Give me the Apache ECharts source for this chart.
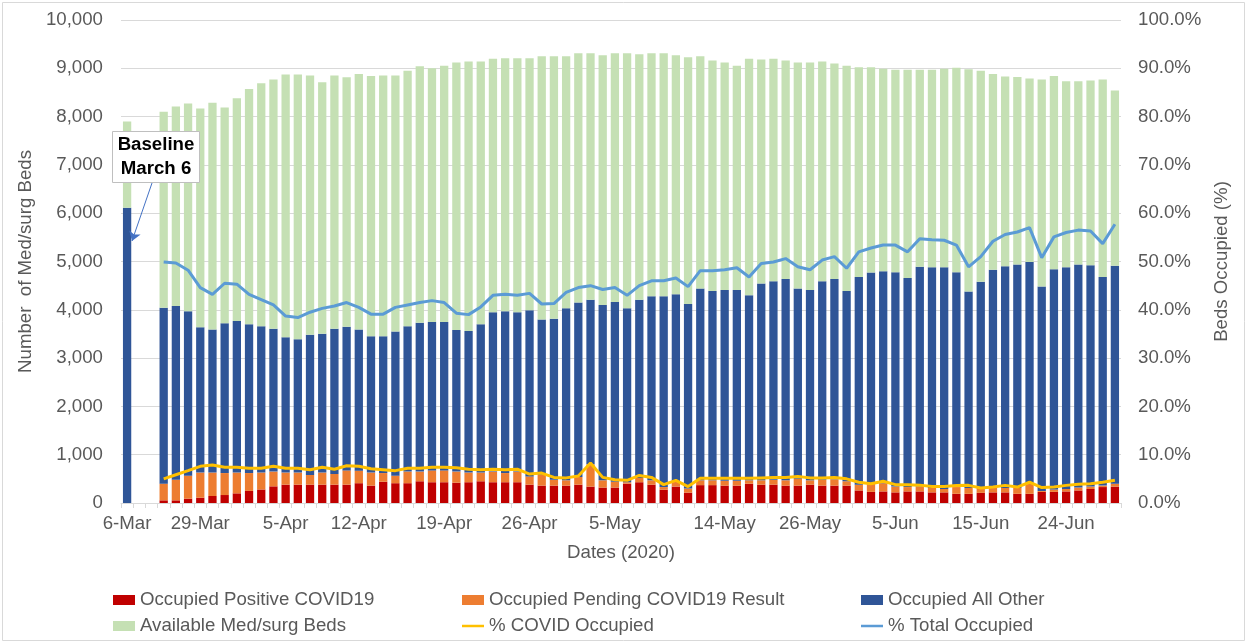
<!DOCTYPE html>
<html>
<head>
<meta charset="utf-8">
<script src="https://cdn.jsdelivr.net/npm/echarts@6/dist/echarts.min.js"></script>
<style>
html,body{margin:0;padding:0;background:#fff;}
#chart{width:1247px;height:643px;}
</style>
</head>
<body>
<div id="chart"></div>
<script>
const dates = ['6-Mar',' ','  ',
 '26-Mar','27-Mar','28-Mar','29-Mar','30-Mar','31-Mar','1-Apr','2-Apr','3-Apr','4-Apr','5-Apr',
 '7-Apr','8-Apr','9-Apr','10-Apr','11-Apr','12-Apr',
 '13-Apr','14-Apr','15-Apr','16-Apr','17-Apr','18-Apr','19-Apr',
 '20-Apr','21-Apr','22-Apr','23-Apr','24-Apr','25-Apr','26-Apr',
 '27-Apr','28-Apr','29-Apr','30-Apr','1-May','4-May','5-May',
 '6-May','7-May','8-May','9-May','10-May','11-May','12-May','13-May','14-May',
 '15-May','18-May','19-May','20-May','21-May','22-May','26-May',
 '28-May','29-May','1-Jun','2-Jun','3-Jun','4-Jun','5-Jun',
 '8-Jun','9-Jun','10-Jun','11-Jun','12-Jun','13-Jun','15-Jun',
 '16-Jun','17-Jun','18-Jun','19-Jun','22-Jun','23-Jun','24-Jun',
 '25-Jun','26-Jun','29-Jun','30-Jun'];

const tickLabels = ['6-Mar','29-Mar','5-Apr','12-Apr','19-Apr','26-Apr','5-May','14-May','26-May','5-Jun','15-Jun','24-Jun'];

const occupiedPositive = [0,null,null,
 55,55,90,110,145,165,200,250,280,345,380,380,380,380,380,380,410,360,440,410,
 410,450,430,430,420,430,450,430,430,430,380,360,360,360,380,340,320,320,400,430,380,275,340,215,
 370,370,360,360,400,380,380,360,360,380,360,360,360,260,230,240,220,240,240,220,220,190,190,
 210,220,220,190,190,230,230,240,260,290,330,340];

const occupiedPending = [0,null,null,
 345,425,475,520,485,455,430,370,350,305,250,250,200,250,220,295,260,270,180,155,
 240,200,245,245,230,200,180,220,190,220,170,225,120,110,160,460,150,120,30,90,90,55,100,85,
 100,100,100,100,70,90,100,110,140,90,120,130,90,120,180,170,120,90,100,90,70,140,120,
 100,90,90,120,210,20,50,50,60,50,30,60];

const occupiedOther = [6115,null,null,
 3640,3600,3405,3010,2960,3100,3140,3080,3030,2960,2800,2760,2905,2875,3010,2975,2920,2820,2830,2985,
 3010,3080,3075,3075,2930,2930,3070,3300,3350,3300,3440,3215,3335,3560,3610,3410,3630,3720,3600,3690,3810,3950,3880,3820,
 3970,3920,3950,3950,3830,4075,4110,4170,3940,3940,4110,4150,3940,4300,4360,4390,4440,4330,4550,4570,4590,4450,4070,
 4270,4520,4590,4630,4590,4230,4560,4590,4620,4580,4320,4510];

const availableBeds = [1785,null,null,
 4060,4130,4300,4530,4695,4470,4610,4870,5030,5160,5440,5480,5365,5205,5240,5165,5290,5390,5400,5300,
 5290,5310,5250,5305,5540,5580,5440,5250,5240,5260,5220,5450,5435,5220,5160,5100,5170,5150,5280,5080,5030,5030,4950,5110,
 4810,4770,4710,4645,4900,4635,4610,4520,4680,4710,4550,4460,4665,4340,4250,4190,4190,4310,4080,4090,4110,4230,4600,
 4370,4050,3930,3880,3800,4290,4000,3850,3790,3830,4090,3630];

const pctCovid = [null,null,null,
 5.0,5.85,6.7,7.6,7.85,7.4,7.4,7.2,7.2,7.6,7.2,7.2,6.9,7.4,7.0,7.7,7.6,7.1,6.9,6.7,
 7.2,7.2,7.4,7.4,7.3,7.0,6.9,7.0,6.9,7.0,6.0,6.2,5.3,5.2,5.6,8.3,5.3,4.8,4.7,5.7,5.3,3.8,4.7,3.4,
 5.1,5.1,5.1,5.1,5.1,5.2,5.3,5.3,5.5,5.2,5.2,5.3,5.0,4.3,4.0,4.5,3.8,3.8,3.7,3.4,3.4,3.6,3.65,
 3.1,3.3,3.65,3.3,4.3,3.2,3.3,3.65,3.9,4.0,4.3,4.7];

const pctTotal = [null,null,null,
 49.9,49.7,48.2,44.6,43.2,45.5,45.3,43.2,42.1,41.0,38.7,38.4,39.5,40.3,40.8,41.5,40.5,39.1,39.1,40.5,
 41.0,41.5,41.9,41.5,39.3,39.0,40.6,43.0,43.2,43.0,43.4,41.2,41.3,43.6,44.6,45.0,44.2,44.6,43.0,45.0,46.0,46.0,46.6,44.8,
 48.1,48.1,48.3,48.7,46.8,49.6,49.9,50.6,48.9,48.3,50.3,51.0,48.6,52.0,52.8,53.4,53.4,52.0,54.7,54.5,54.4,53.4,48.9,
 51.0,54.2,55.6,56.1,57.0,50.8,55.1,56.0,56.5,56.3,53.7,57.7];

const FONT = 'Liberation Sans, Arial, sans-serif';
const FS = 18.67;
const GREY = '#595959';
const LINE_ICON = 'path://M0,0 L22,0 L22,2.5 L0,2.5 Z';

const chart = echarts.init(document.getElementById('chart'), null, {renderer: 'canvas'});

const barCommon = {type: 'bar', stack: 'beds', barCategoryGap: '32%', yAxisIndex: 0, xAxisIndex: 0};

const legendBase = {
  orient: 'vertical', itemWidth: 22, itemHeight: 10, itemGap: 4, padding: 0,
  symbolKeepAspect: true,
  textStyle: {fontFamily: FONT, fontSize: FS, color: GREY, lineHeight: 22},
  selectedMode: false
};

chart.setOption({
  animation: false,
  backgroundColor: '#ffffff',
  textStyle: {fontFamily: FONT},
  grid: {left: 121, right: 126, top: 20, bottom: 140, containLabel: false},
  legend: [
    Object.assign({}, legendBase, {left: 113, top: 589, data: [
      {name: 'Occupied Positive COVID19', icon: 'rect'},
      {name: 'Available Med/surg Beds', icon: 'rect'}]}),
    Object.assign({}, legendBase, {left: 462, top: 589, data: [
      {name: 'Occupied Pending COVID19 Result', icon: 'rect'},
      {name: '% COVID Occupied', icon: LINE_ICON}]}),
    Object.assign({}, legendBase, {left: 861, top: 589, data: [
      {name: 'Occupied All Other', icon: 'rect'},
      {name: '% Total Occupied', icon: LINE_ICON}]})
  ],
  xAxis: {
    type: 'category',
    data: dates,
    boundaryGap: true,
    name: 'Dates (2020)',
    nameLocation: 'middle',
    nameGap: 40,
    nameTextStyle: {fontFamily: FONT, fontSize: FS, color: GREY},
    axisLine: {show: true, lineStyle: {color: '#D9D9D9', width: 1}},
    axisTick: {show: true, interval: 0, alignWithLabel: false, length: 5, lineStyle: {color: '#D9D9D9'}},
    axisLabel: {
      interval: function (idx, val) { return tickLabels.indexOf(val) >= 0; },
      fontFamily: FONT, fontSize: FS, color: GREY, margin: 11, hideOverlap: false
    },
    splitLine: {show: false}
  },
  yAxis: [
    {
      type: 'value', min: 0, max: 10000, interval: 1000,
      name: 'Number  of Med/surg Beds',
      nameLocation: 'middle', nameGap: 75, nameRotate: 90,
      nameTextStyle: {fontFamily: FONT, fontSize: FS, color: GREY},
      axisLine: {show: false}, axisTick: {show: false},
      axisLabel: {fontFamily: FONT, fontSize: FS, color: GREY, margin: 18,
        formatter: function (v) { return v.toLocaleString('en-US'); }},
      splitLine: {show: true, lineStyle: {color: '#D9D9D9', width: 1}}
    },
    {
      type: 'value', min: 0, max: 100, interval: 10, position: 'right',
      name: 'Beds Occupied (%)',
      nameLocation: 'middle', nameGap: 91, nameRotate: 90,
      nameTextStyle: {fontFamily: FONT, fontSize: FS, color: GREY},
      axisLine: {show: false}, axisTick: {show: false},
      axisLabel: {fontFamily: FONT, fontSize: FS, color: GREY, margin: 17,
        formatter: function (v) { return v.toFixed(1) + '%'; }},
      splitLine: {show: false}
    }
  ],
  series: [
    Object.assign({}, barCommon, {name: 'Occupied Positive COVID19', data: occupiedPositive, itemStyle: {color: '#C00000'}}),
    Object.assign({}, barCommon, {name: 'Occupied Pending COVID19 Result', data: occupiedPending, itemStyle: {color: '#ED7D31'}}),
    Object.assign({}, barCommon, {name: 'Occupied All Other', data: occupiedOther, itemStyle: {color: '#2F5597'},
      markLine: {
        silent: true, symbol: ['none', 'arrow'], symbolSize: 9, animation: false,
        label: {show: false},
        lineStyle: {color: '#4472C4', width: 1, type: 'solid'},
        data: [[{x: 152, y: 183, symbol: 'none'}, {x: 132, y: 241, symbol: 'arrow', symbolSize: 9}]]
      }}),
    Object.assign({}, barCommon, {name: 'Available Med/surg Beds', data: availableBeds, itemStyle: {color: '#C5E0B4'}}),
    {type: 'line', name: '% COVID Occupied', data: pctCovid, yAxisIndex: 1, symbol: 'none', showSymbol: false, z: 5,
      lineStyle: {color: '#FFC000', width: 3}, itemStyle: {color: '#FFC000'}},
    {type: 'line', name: '% Total Occupied', data: pctTotal, yAxisIndex: 1, symbol: 'none', showSymbol: false, z: 4,
      lineStyle: {color: '#5B9BD5', width: 3}, itemStyle: {color: '#5B9BD5'}}
  ],
  graphic: [
    {type: 'rect', silent: true, z: -10, shape: {x: 2.5, y: 2.5, width: 1242, height: 638},
      style: {fill: null, stroke: '#D9D9D9', lineWidth: 1}},
    {type: 'rect', z: 100, shape: {x: 112.5, y: 131.5, width: 87, height: 51},
      style: {fill: '#ffffff', stroke: '#BFBFBF', lineWidth: 1}},
    {type: 'text', z: 101, x: 156, y: 157,
      style: {text: 'Baseline\nMarch 6', fill: '#000000', font: 'bold 18.67px ' + FONT,
        align: 'center', verticalAlign: 'middle', lineHeight: 24}}
  ]
});
</script>
</body>
</html>
